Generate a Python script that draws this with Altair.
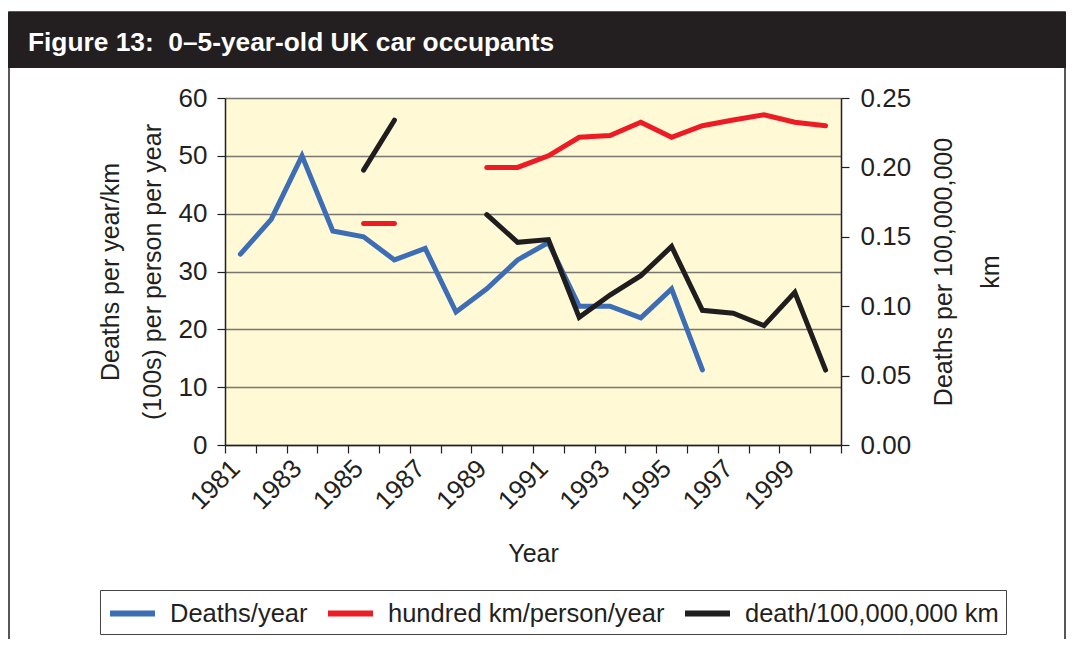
import altair as alt
import pandas as pd

# ---------------- data ----------------
years = [str(y) for y in range(1981, 2001)]
deaths_per_year = [33, 39, 50, 37, 36, 32, 34, 23, 27, 32, 35, 24, 24, 22, 27, 13,
                   None, None, None, None]
hundred_km_per_person = [None, None, None, None, 38.3, 38.3, None, None, 48.0, 48.0,
                         50.0, 53.2, 53.5, 55.8, 53.2, 55.2, 56.2, 57.1, 55.8, 55.2]
deaths_per_100m_km = [None, None, None, None, 0.198, 0.234, None, None, 0.166, 0.146,
                      0.148, 0.092, 0.108, 0.122, 0.143, 0.097, 0.095, 0.086, 0.110, 0.054]
series_names = ["Deaths/year", "hundred km/person/year", "death/100,000,000 km"]
series_colors = ["#3d6db5", "#ed1c24", "#1f1d1d"]
left_ticks = [0, 10, 20, 30, 40, 50, 60]
right_ticks = [0.0, 0.05, 0.10, 0.15, 0.20, 0.25]
title_text = "Figure 13:\u00a0 0\u20135-year-old UK car occupants"
left_title = ["Deaths per year/km", "(100s) per person per year"]
right_title = ["Deaths per 100,000,000", "km"]
x_title = "Year"

FONT = "Liberation Sans"
TXT = "#231f20"


def long_rows(name, values):
    rows, seg, prev_missing = [], 0, False
    for yr, v in zip(years, values):
        if v is None:
            prev_missing = True
            continue
        if prev_missing and rows:
            seg += 1
        prev_missing = False
        rows.append({"year": yr, "value": v, "series": name, "segment": f"{name}-{seg}"})
    return rows


left_df = pd.DataFrame(long_rows(series_names[0], deaths_per_year)
                       + long_rows(series_names[1], hundred_km_per_person))
right_df = pd.DataFrame(long_rows(series_names[2], deaths_per_100m_km))
header_df = pd.DataFrame({"t": [title_text]})

# ---------------- layout ----------------
PLOT_W, PLOT_H = 616, 347
PAD = {"left": 217, "top": 90, "right": 225, "bottom": 194}

color = alt.Color(
    "series:N",
    scale=alt.Scale(domain=series_names, range=series_colors),
    legend=alt.Legend(
        title=None, orient="none", legendX=-125, legendY=492, direction="horizontal",
        symbolType="M-1,0H2.333", symbolSize=729, symbolStrokeWidth=6,
        labelFontSize=25.5, labelFont=FONT, labelColor=TXT, labelOffset=30,
        columnPadding=8, padding=7, strokeColor="#444444", fillColor="white",
        labelLimit=500,
    ),
)

x_enc = alt.X(
    "year:O",
    sort=years,
    scale=alt.Scale(type="band", domain=years, paddingInner=0, paddingOuter=0),
    axis=alt.Axis(
        title=x_title, tickBand="extent", labelAngle=315, labelAlign="right",
        labelBaseline="middle", labelOverlap=False,
        labelExpr="parseInt(datum.value) % 2 == 1 ? datum.label : ''",
        labelFontSize=26, labelPadding=11, labelOffset=-5, tickSize=8, grid=False,
        titleY=108, titleBaseline="middle", titleFontSize=25,
    ),
)

line_props = dict(strokeWidth=5, strokeCap="round", strokeJoin="miter")

left_lines = alt.Chart(left_df).mark_line(**line_props).encode(
    x=x_enc,
    y=alt.Y(
        "value:Q",
        scale=alt.Scale(domain=[0, 60], nice=False, zero=True),
        axis=alt.Axis(
            orient="left", values=left_ticks, title=left_title, grid=True,
            gridColor="#77776f", gridWidth=1.5, tickSize=8, labelPadding=10,
            labelFontSize=26, titleFontSize=25, titleAngle=270, titleLineHeight=42,
            titleX=-115, titleY=PLOT_H / 2, titleBaseline="middle",
        ),
    ),
    color=color,
    detail="segment:N",
)

right_lines = alt.Chart(right_df).mark_line(**line_props).encode(
    x=x_enc,
    y=alt.Y(
        "value:Q",
        scale=alt.Scale(domain=[0, 0.25], nice=False, zero=True),
        axis=alt.Axis(
            orient="right", values=right_ticks, format=".2f", title=right_title,
            grid=False, tickSize=8, labelPadding=11, labelFontSize=26,
            titleFontSize=25, titleAngle=270, titleLineHeight=47,
            titleX=102, titleY=PLOT_H / 2, titleBaseline="middle",
        ),
    ),
    color=color,
    detail="segment:N",
)

header_bar = alt.Chart(header_df).mark_rect(color=TXT).encode(
    x=alt.value(-217), x2=alt.value(841), y=alt.value(-86), y2=alt.value(-30)
)
header_text = alt.Chart(header_df).mark_text(
    align="left", baseline="middle", font=FONT, fontSize=26.3, fontWeight="bold", color="white"
).encode(x=alt.value(-197), y=alt.value(-55), text="t:N")
frame = alt.Chart(header_df).mark_rect(
    fillOpacity=0, stroke=TXT, strokeWidth=1.5
).encode(x=alt.value(-216), x2=alt.value(840), y=alt.value(-86), y2=alt.value(600))

chart = (
    alt.layer(frame, header_bar, header_text, left_lines, right_lines)
    .resolve_scale(y="independent")
    .properties(
        width=PLOT_W, height=PLOT_H, padding=PAD,
        autosize=alt.AutoSizeParams(type="none"), background="white",
    )
    .configure_view(fill="#fff9d6", strokeWidth=0)
    .configure_axis(
        labelFont=FONT, titleFont=FONT, labelColor=TXT, titleColor=TXT,
        domainColor=TXT, tickColor=TXT, domainWidth=1.5, tickWidth=1.2,
        titleFontWeight="normal",
    )
)

chart.save("out.html", embed_options={"renderer": "svg", "actions": False})
